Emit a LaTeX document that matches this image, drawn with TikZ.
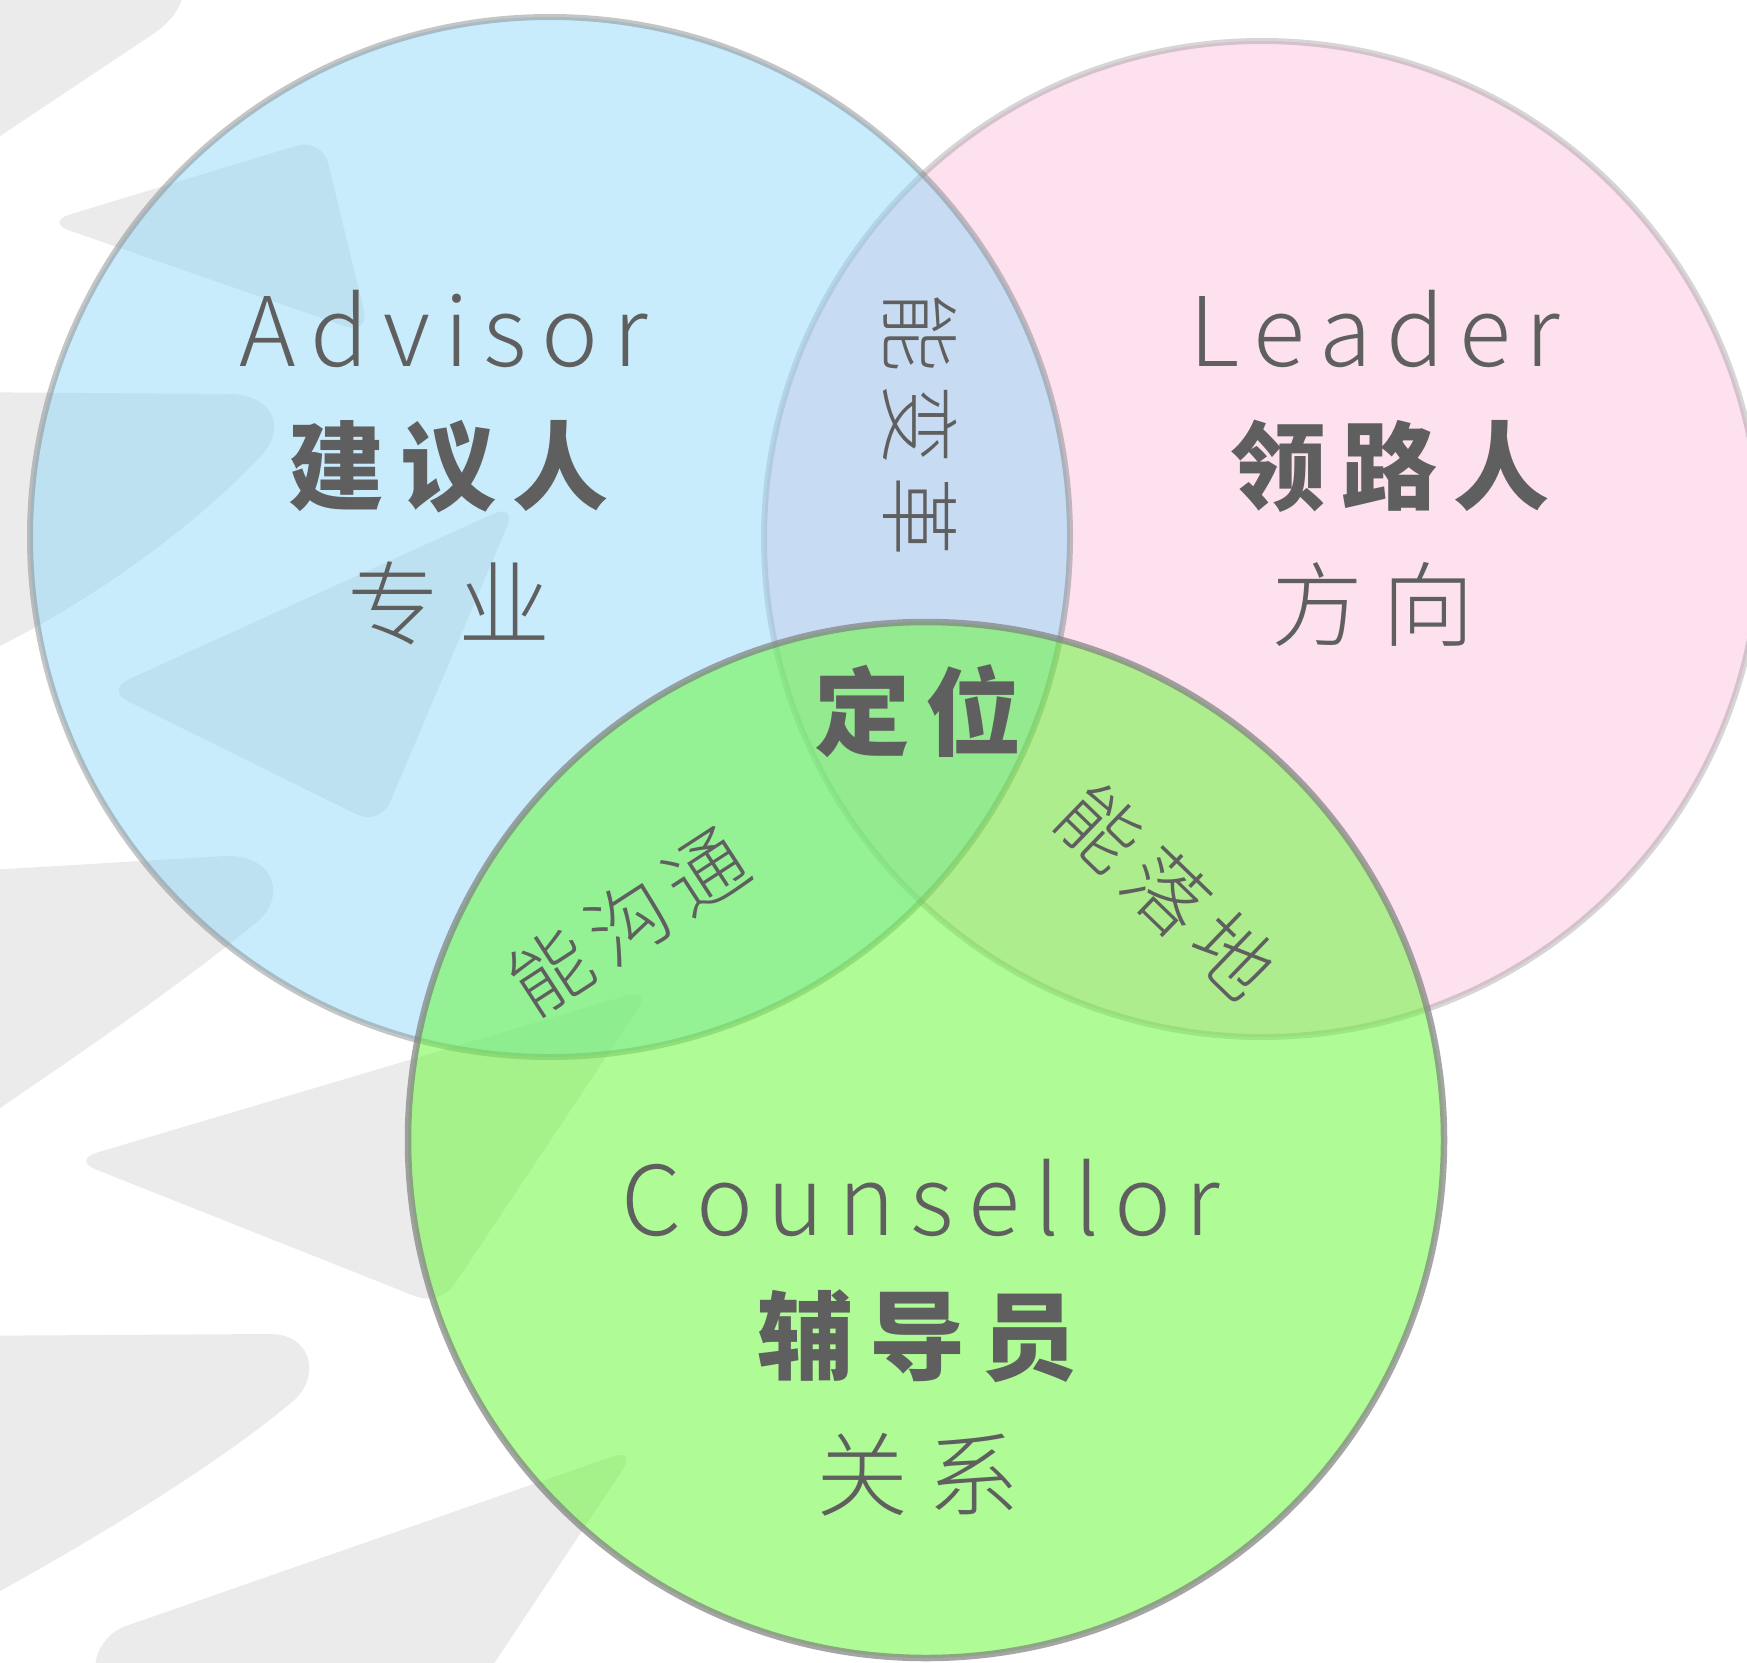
\documentclass[tikz,border=0pt]{standalone}
\usepackage{fontspec}
\IfFontExistsTF{Noto Sans CJK SC Light}%
  {\newfontfamily\cjklight{Noto Sans CJK SC Light}}%
  {\newfontfamily\cjklight{Noto Sans CJK SC}}
\newfontfamily\cjkbase{Noto Sans CJK SC}
\definecolor{txt}{RGB}{95,95,95}
\definecolor{stroke}{RGB}{235,235,235}
\definecolor{pinkfill}{RGB}{253,225,239}
\definecolor{bluebase}{RGB}{135,215,249}
\definecolor{greenbase}{RGB}{97,249,45}
\definecolor{rimgray}{RGB}{128,128,128}
\newcommand\sepL{\kern14.5pt}
\newcommand\sepB{\kern16pt}
\newcommand\sepC{\kern19pt}
\newcommand\sepS{\kern12pt}
\tikzset{
  latin/.style={font=\cjklight\fontsize{96}{100}\selectfont, text=txt, inner sep=0pt, anchor=base},
  boldcjk/.style={font=\cjkbase\bfseries\fontsize{96}{100}\selectfont, text=txt, inner sep=0pt},
  lightcjk/.style={font=\cjklight\fontsize{92}{100}\selectfont, text=txt, inner sep=0pt},
  smallcjk/.style={font=\cjklight\fontsize{80}{90}\selectfont, text=txt, inner sep=0pt},
  band/.style={fill=stroke, draw=none},
  wedge/.style={band, rounded corners=26pt},
}
\begin{document}
\begin{tikzpicture}[x=1pt, y=-1pt]
\useasboundingbox (0,0) rectangle (1747,1662);
\clip (0,0) rectangle (1747,1662);
\fill[white] (0,0) rectangle (1747,1662);
% background brush strokes
\path[band] (-60,-60) -- (185,-60) -- (185,-20) .. controls (185,5) and (172,22) .. (150,36) -- (0,136) -- (-60,176) -- cycle;
\path[wedge] (45,222) -- (322,138) -- (370,335) -- cycle;
\path[band] (-60,392) -- (230,394) .. controls (275,395) and (287,430) .. (260,457) .. controls (200,520) and (110,590) .. (0,646) -- (-60,684) -- cycle;
\path[wedge] (105,690) -- (517,503) -- (380,826) -- cycle;
\path[band] (-60,873) -- (225,856) .. controls (275,854) and (287,897) .. (257,922) .. controls (190,977) and (100,1040) .. (0,1108) -- (-60,1150) -- cycle;
\path[wedge] (72,1160) -- (652,988) -- (440,1306) -- cycle;
\path[band] (-60,1336) -- (270,1334) .. controls (312,1334) and (322,1377) .. (292,1402) .. controls (220,1462) and (110,1530) .. (0,1591) -- (-60,1625) -- cycle;
\path[wedge] (100,1635) -- (637,1448) -- (430,1760) -- (80,1760) -- cycle;
% circles
\path[fill=pinkfill, draw=rimgray, draw opacity=0.32, line width=6pt] (1262,539) circle [radius=498];
\path[fill=bluebase, fill opacity=0.45, draw=rimgray, draw opacity=0.45, line width=6pt] (550,537) circle [radius=520];
\path[fill=greenbase, fill opacity=0.5, draw=rimgray, draw opacity=0.7, line width=6.5pt] (926,1140) circle [radius=518];
% texts
\node[latin] (advisor) at (443.5,366) {A\sepL d\sepL v\sepL i\sepL s\sepL o\sepL r};
\node[boldcjk] (jianyiren) at (448.5,467) {建\sepB 议\sepB 人};
\node[lightcjk] (zhuanye) at (449,603) {专\sepC 业};
\node[latin] (leader) at (1374.5,366) {L\sepL e\sepL a\sepL d\sepL e\sepL r};
\node[boldcjk] (lingluren) at (1390,466) {领\sepB 路\sepB 人};
\node[lightcjk] (fangxiang) at (1373,604) {方\sepC 向};
\node[smallcjk, rotate=-90] (biange) at (920,424) {能\sepS 变\sepS 革};
\node[boldcjk] (dingwei) at (918,711) {定\sepB 位};
\node[smallcjk, rotate=33] (goutong) at (628,921) {能\sepS 沟\sepS 通};
\node[smallcjk, rotate=-44] (luodi) at (1167,891) {能\sepS 落\sepS 地};
\node[latin] (counsellor) at (921,1235) {C\sepL o\sepL u\sepL n\sepL s\sepL e\sepL l\sepL l\sepL o\sepL r};
\node[boldcjk] (fudaoyuan) at (917.5,1336) {辅\sepB 导\sepB 员};
\node[lightcjk] (guanxi) at (918,1475) {关\sepC 系};
\end{tikzpicture}
\end{document}
